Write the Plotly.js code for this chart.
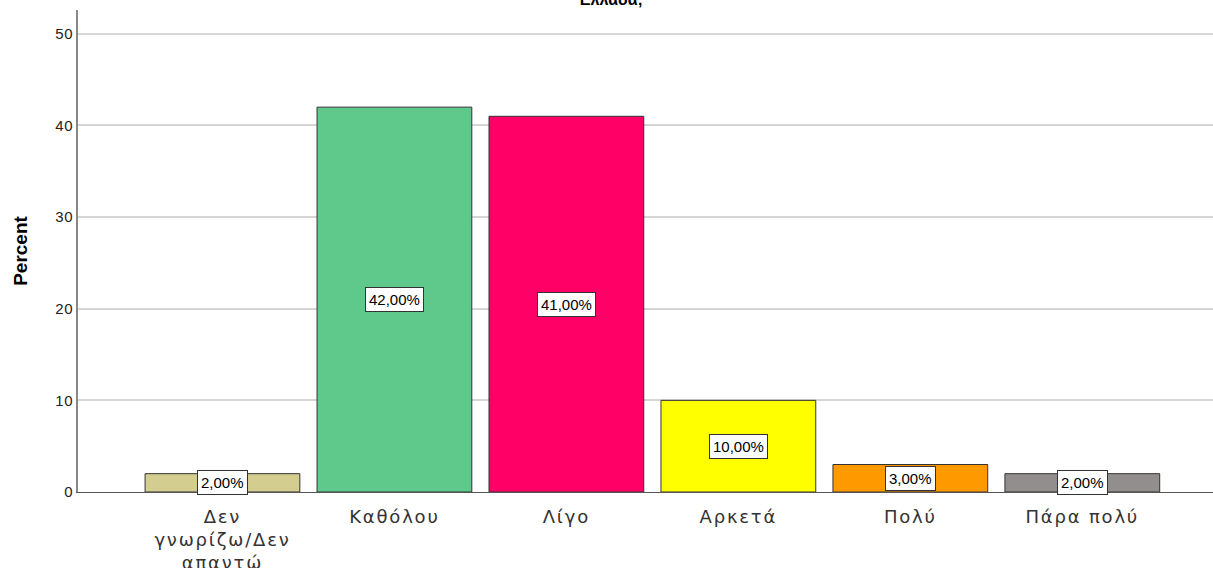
<!DOCTYPE html>
<html>
<head>
<meta charset="utf-8">
<script src="https://cdn.plot.ly/plotly-3.0.1.min.js"></script>
<style>
html,body{margin:0;padding:0;background:#fff;}
#chart{width:1213px;height:568px;}
#chart .xtick text{letter-spacing:1.8px;}
#chart .ytick text{letter-spacing:0.5px;}
</style>
</head>
<body>
<div id="chart"></div>
<script>
const categories = ["Δεν<br>γνωρίζω/Δεν<br>απαντώ", "Καθόλου", "Λίγο", "Αρκετά", "Πολύ", "Πάρα πολύ"];
const percents = [2, 42, 41, 10, 3, 2];
const labels = ["2,00%", "42,00%", "41,00%", "10,00%", "3,00%", "2,00%"];
const colors = ["#d3cd8f", "#5ec98b", "#ff0066", "#ffff00", "#ff9900", "#938e8e"];
const titleText = "Ελλάδα;";
const yTicks = [0, 10, 20, 30, 40, 50];

const FONT = "Liberation Sans, Arial, sans-serif";
const XFONT = "DejaVu Sans, Verdana, sans-serif";

const trace = {
  type: "bar",
  x: categories.map((c, i) => i),
  y: percents,
  marker: {color: colors, line: {color: "#333333", width: 1}},
  hoverinfo: "none"
};

const annotations = percents.map((v, i) => ({
  x: i, y: v / 2, xref: "x", yref: "y",
  text: labels[i], showarrow: false,
  font: {family: FONT, size: 15, color: "#000"},
  bgcolor: "#ffffff", bordercolor: "#333333", borderwidth: 1, borderpad: 3
}));

const layout = {
  width: 1213, height: 568,
  margin: {l: 78, r: 0, t: 10, b: 76, pad: 0},
  paper_bgcolor: "#fff", plot_bgcolor: "#fff",
  bargap: 0.1,
  showlegend: false,
  title: {
    text: titleText,
    font: {family: FONT, size: 16, color: "#000", weight: "bold"},
    x: 0.504, xanchor: "center",
    yref: "container", y: 1.024, yanchor: "bottom"
  },
  xaxis: {
    range: [-0.84, 5.76],
    tickmode: "array", tickvals: categories.map((c, i) => i), ticktext: categories,
    showgrid: false, zeroline: false,
    showline: true, linecolor: "#555", linewidth: 1,
    ticks: "", ticklen: 0, ticklabelstandoff: 8,
    tickfont: {family: XFONT, size: 18, color: "#333"},
    fixedrange: true
  },
  yaxis: {
    range: [0, 52.6],
    tickmode: "array", tickvals: yTicks,
    showgrid: true, gridcolor: "#d6d6d6", gridwidth: 2,
    zeroline: false,
    showline: true, linecolor: "#888", linewidth: 2,
    ticks: "", ticklen: 0,
    tickfont: {family: FONT, size: 15, color: "#222"},
    title: {text: "Percent", standoff: 24,
      font: {family: FONT, size: 19, color: "#000", weight: "bold"}},
    fixedrange: true
  },
  annotations: annotations
};

Plotly.newPlot("chart", [trace], layout, {displayModeBar: false, staticPlot: true});
</script>
</body>
</html>
